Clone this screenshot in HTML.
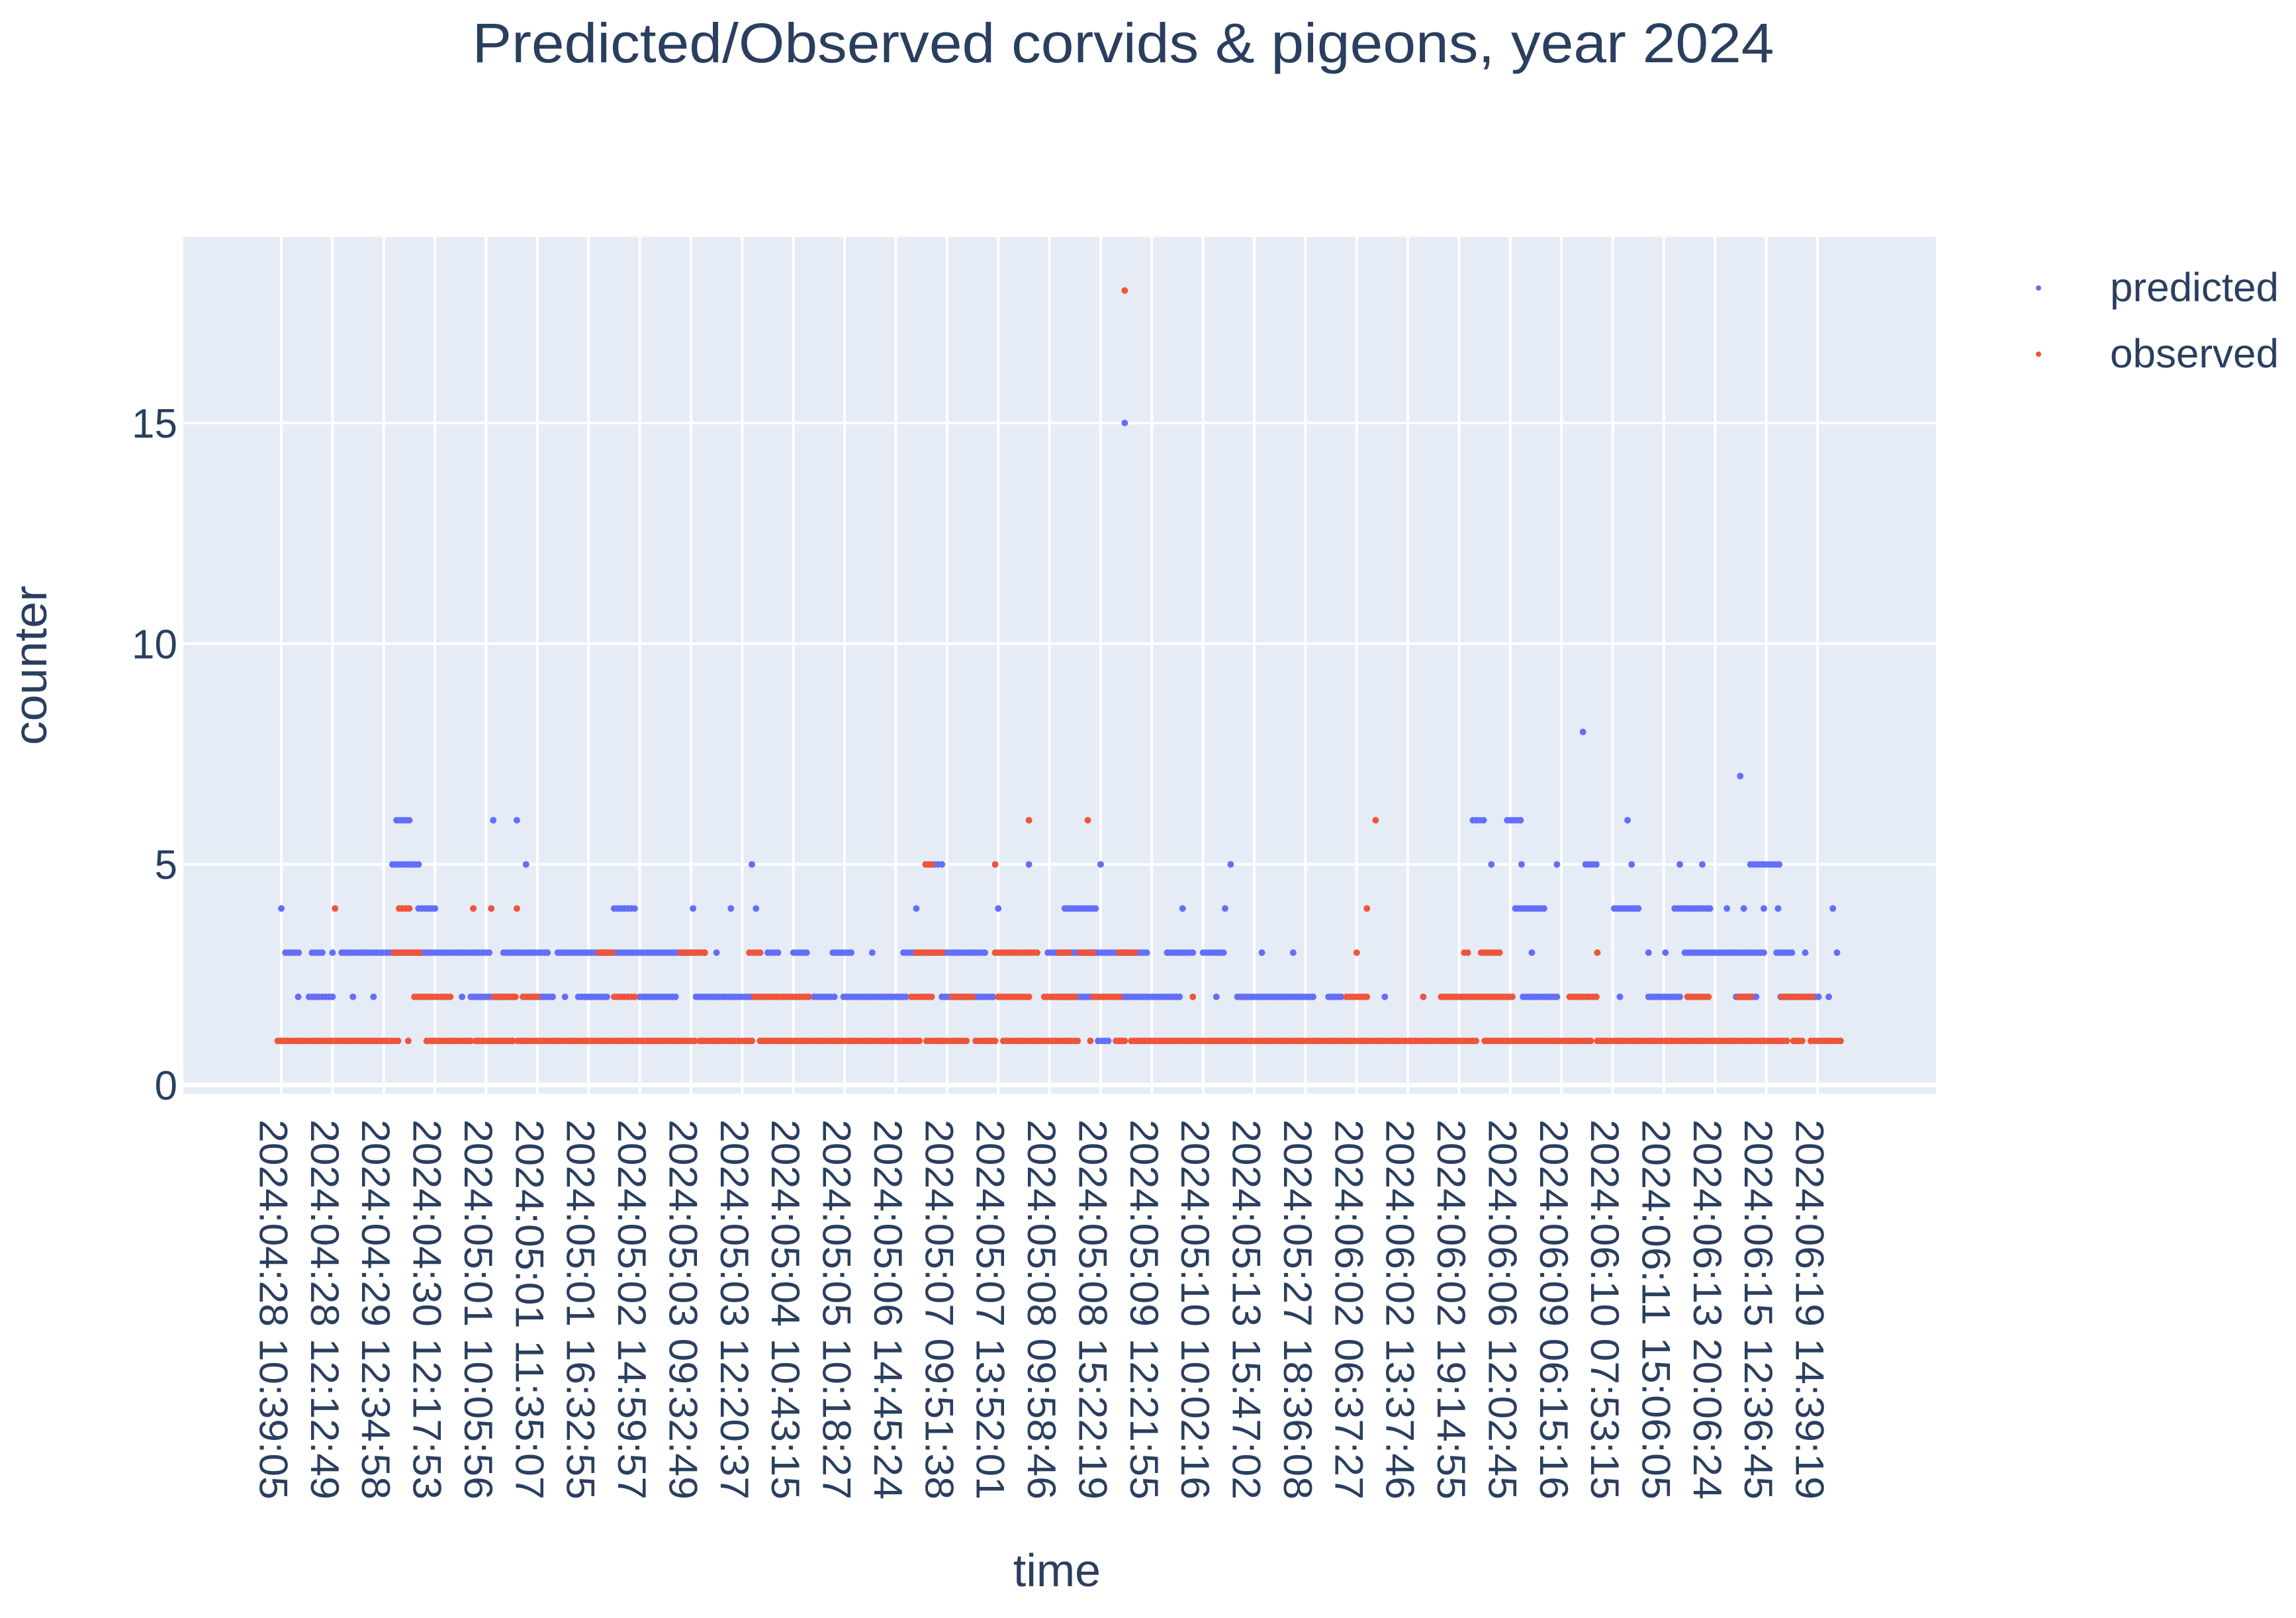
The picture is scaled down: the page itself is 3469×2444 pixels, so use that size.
<!DOCTYPE html>
<html><head><meta charset="utf-8">
<style>
html,body{margin:0;padding:0;background:#fff;}
svg{display:block;font-family:"Liberation Sans",Arial,sans-serif;}
</style></head>
<body>
<svg id="chart" width="3469" height="2444" viewBox="0 0 3469 2444" xmlns="http://www.w3.org/2000/svg">
  <rect x="0" y="0" width="3469" height="2444" fill="#ffffff"/>
  <text x="1697" y="94" text-anchor="middle" font-size="84" fill="#2a3f5f" textLength="1967" lengthAdjust="spacingAndGlyphs">Predicted/Observed corvids &amp; pigeons, year 2024</text>
  <rect x="277" y="358" width="2648" height="1294" fill="#e5ecf6"/>
  <g id="grid"></g>
  <g id="pred"></g>
  <g id="obs"></g>
  <g id="yticks"></g>
  <g id="xticks"></g>
  <text transform="translate(70,1005) rotate(-90)" text-anchor="middle" font-size="70" fill="#2a3f5f" textLength="241" lengthAdjust="spacingAndGlyphs">counter</text>
  <text x="1597" y="2396" text-anchor="middle" font-size="70" fill="#2a3f5f">time</text>
  <g>
    <g>
      <circle cx="3080" cy="435" r="4" fill="#636efa"/>
      <text x="3188" y="455" font-size="61" fill="#2a3f5f" textLength="255" lengthAdjust="spacingAndGlyphs">predicted</text>
    </g>
    <g>
      <circle cx="3080" cy="535" r="4" fill="#EF553B"/>
      <text x="3188" y="555" font-size="61" fill="#2a3f5f" textLength="255" lengthAdjust="spacingAndGlyphs">observed</text>
    </g>
  </g>
</svg>
<script>
// x positions expressed in tick units (0 = first tick label, 30 = last)
const tickLabels = ["2024:04:28 10:39:05","2024:04:28 12:12:49","2024:04:29 12:34:58","2024:04:30 12:17:53","2024:05:01 10:05:56","2024:05:01 11:35:07","2024:05:01 16:32:55","2024:05:02 14:59:57","2024:05:03 09:32:49","2024:05:03 12:20:37","2024:05:04 10:43:15","2024:05:05 10:18:27","2024:05:06 14:45:24","2024:05:07 09:51:38","2024:05:07 13:52:01","2024:05:08 09:58:46","2024:05:08 15:22:19","2024:05:09 12:21:55","2024:05:10 10:02:16","2024:05:13 15:47:02","2024:05:27 18:36:08","2024:06:02 06:37:27","2024:06:02 13:37:46","2024:06:02 19:14:55","2024:06:06 12:02:45","2024:06:09 06:15:16","2024:06:10 07:53:15","2024:06:11 15:06:05","2024:06:13 20:06:24","2024:06:15 12:36:45","2024:06:19 14:39:19"];
const yTicks = [0, 5, 10, 15];

// predicted series: runs of consecutive observations [start, end] with a value
const predStart = [0,0.08,0.6,1.0,1.18,4.34,5.4,6.05,8.5,9.5,10.0,10.77,11.54,12.15,14.97,15.19,17.3,18.0,19.15,19.76,24.42,26.7,27.03,27.41,29.2,29.76,30.38,
 0.33,0.54,1.4,1.8,3.53,3.7,4.72,5.54,5.8,7.0,8.1,10.4,10.98,12.9,15.19,16.4,18.26,18.67,20.45,21.55,24.25,26.14,26.7,28.41,29.28,30.22,
 2.68,6.5,8.04,8.78,9.27,12.4,14.0,15.3,17.6,18.43,24.1,26.03,27.21,28.23,28.56,28.95,29.23,30.3,
 2.17,4.78,9.19,12.75,14.6,16.0,18.54,23.63,24.22,24.91,25.47,26.37,27.31,27.75,28.69,
 2.25,4.14,4.6,23.27,23.94,26.29, 28.49, 25.42, 16.47, 15.95];
const predEnd = [0,0.34,0.8,1.0,4.06,5.2,6.0,8.27,8.5,9.7,10.26,11.13,11.54,13.74,15.3,16.9,17.8,18.4,19.15,19.76,24.42,26.7,27.03,28.95,29.5,29.76,30.38,
 0.33,1.0,1.4,1.8,3.53,4.57,5.3,5.54,6.36,7.7,9.19,10.8,12.2,13.9,15.85,17.54,18.26,20.15,20.7,21.55,24.91,26.14,27.31,28.8,30.02,30.22,
 3.0,6.9,8.04,8.78,9.27,12.4,14.0,15.9,17.6,18.43,24.66,26.5,27.9,28.23,28.56,28.95,29.23,30.3,
 2.68,4.78,9.19,12.9,14.6,16.0,18.54,23.63,24.22,24.91,25.68,26.37,27.31,27.75,29.25,
 2.5,4.14,4.6,23.48,24.2,26.29, 28.49, 25.42, 16.47, 16.15];
const predValue = [4,3,3,3,3,3,3,3,3,3,3,3,3,3,3,3,3,3,3,3,3,3,3,3,3,3,3,
 2,2,2,2,2,2,2,2,2,2,2,2,2,2,2,2,2,2,2,2,2,2,2,2,2,2,
 4,4,4,4,4,4,4,4,4,4,4,4,4,4,4,4,4,4,
 5,5,5,5,5,5,5,5,5,5,5,5,5,5,5,
 6,6,6,6,6,6, 7, 8, 15, 1];

// observed series
const obsStart = [-0.07,2.48,2.84,3.8,4.62,8.17,9.35,12.6,13.56,14.1,15.8,16.3,16.6,23.5,25.7,29.53,29.87,
 2.6,4.16,4.72,6.5,9.24,12.3,13.1,14.0,14.9,15.85,17.8,20.8,22.3,22.65,25.16,27.46,28.45,29.3,
 2.2,6.2,7.8,9.14,12.4,13.94,15.19,15.6,16.36,21.0,23.1,23.43,25.7,
 1.05,2.3,3.75,4.1,4.6,21.2,
 12.58,13.94, 14.6,15.75,21.37, 16.47];
const obsEnd = [2.28,2.48,3.7,4.52,8.07,9.19,12.46,13.38,13.94,15.55,15.8,16.47,23.33,25.57,29.4,29.7,30.45,
 3.3,4.57,5.0,6.9,10.3,12.7,13.5,14.6,15.5,16.37,17.8,21.2,22.3,24.04,25.68,27.87,28.7,29.9,
 2.7,6.46,8.27,9.35,12.9,14.76,15.39,15.85,16.67,21.0,23.17,23.79,25.7,
 1.05,2.5,3.75,4.1,4.6,21.2,
 12.7,13.94, 14.6,15.75,21.37, 16.47];
const obsValue = [1,1,1,1,1,1,1,1,1,1,1,1,1,1,1,1,1,
 2,2,2,2,2,2,2,2,2,2,2,2,2,2,2,2,2,2,
 3,3,3,3,3,3,3,3,3,3,3,3,3,
 4,4,4,4,4,4,
 5,5, 6,6,6, 18];

const NS = "http://www.w3.org/2000/svg";
const X0 = 425, TICK = 77.37, Y0 = 1639, YU = 66.67;
const PLOT_L = 277, PLOT_R = 2925, PLOT_T = 358, PLOT_B = 1652;
const STEP = 1 / 16;
function xScale(t) { return X0 + t * TICK; }
function yScale(v) { return Y0 - v * YU; }

const grid = document.getElementById('grid');
tickLabels.forEach(function (lab, i) {
  const l = document.createElementNS(NS, 'line');
  l.setAttribute('x1', xScale(i)); l.setAttribute('x2', xScale(i));
  l.setAttribute('y1', PLOT_T); l.setAttribute('y2', PLOT_B);
  l.setAttribute('stroke', '#ffffff'); l.setAttribute('stroke-width', '4');
  
  
  grid.appendChild(l);
  const t = document.createElementNS(NS, 'text');
  const cx = xScale(i) - 12;
  t.setAttribute('transform', 'translate(' + cx + ',1691) rotate(90)');
  t.setAttribute('font-size', '60');
  t.setAttribute('fill', '#2a3f5f');
  t.setAttribute('dominant-baseline', 'central');
  t.setAttribute('textLength', '574');
  t.setAttribute('lengthAdjust', 'spacingAndGlyphs');
  t.textContent = lab;
  
  
  document.getElementById('xticks').appendChild(t);
});
yTicks.forEach(function (v) {
  const l = document.createElementNS(NS, 'line');
  l.setAttribute('x1', PLOT_L); l.setAttribute('x2', PLOT_R);
  l.setAttribute('y1', yScale(v)); l.setAttribute('y2', yScale(v));
  l.setAttribute('stroke', '#ffffff'); l.setAttribute('stroke-width', v === 0 ? '7' : '4');
  
  
  grid.appendChild(l);
  const t = document.createElementNS(NS, 'text');
  t.setAttribute('x', 268); t.setAttribute('y', yScale(v) + 22);
  t.setAttribute('text-anchor', 'end');
  t.setAttribute('font-size', '62');
  t.setAttribute('fill', '#2a3f5f');
  t.textContent = String(v);
  
  
  document.getElementById('yticks').appendChild(t);
});

function drawSeries(gid, starts, ends, values, color, name) {
  const g = document.getElementById(gid);
  for (let k = 0; k < starts.length; k++) {
    const n = Math.max(0, Math.round((ends[k] - starts[k]) / STEP));
    for (let j = 0; j <= n; j++) {
      const t = n === 0 ? starts[k] : starts[k] + (ends[k] - starts[k]) * j / n;
      const c = document.createElementNS(NS, 'circle');
      c.setAttribute('cx', xScale(t).toFixed(1));
      c.setAttribute('cy', yScale(values[k]).toFixed(1));
      c.setAttribute('r', '5');
      c.setAttribute('fill', color);
      
      
      g.appendChild(c);
    }
  }
}
drawSeries('pred', predStart, predEnd, predValue, '#636efa', 'predicted-point');
drawSeries('obs', obsStart, obsEnd, obsValue, '#EF553B', 'observed-point');
</script>
</body></html>
